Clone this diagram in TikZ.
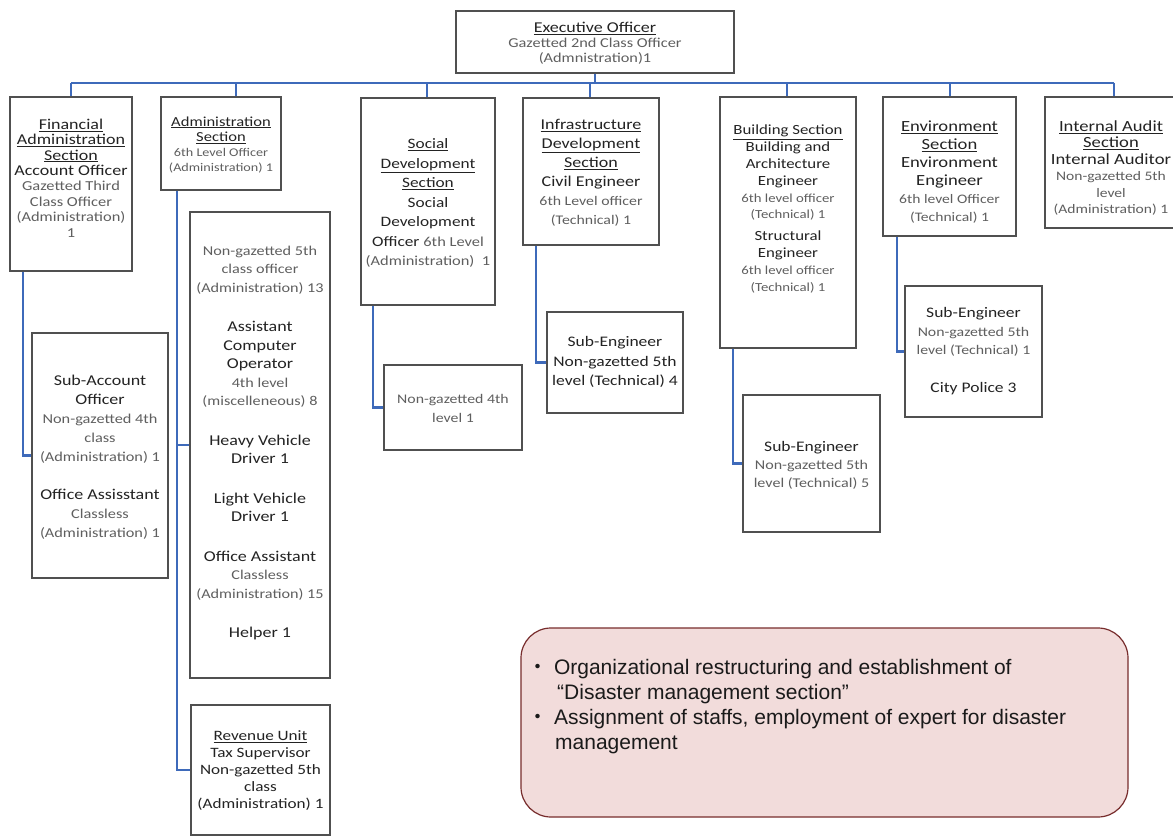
\documentclass[tikz,border=0pt]{standalone}
\usepackage{fontspec}
\setmainfont{Carlito}
\newfontfamily\boxfont{Carlito}[FakeStretch=1.2]
\newfontfamily\notefont{Liberation Sans}
\newfontfamily\cjkfont{Noto Sans CJK JP}
\usetikzlibrary{shadows}

\definecolor{linkblue}{RGB}{62,106,186}
\definecolor{boxline}{RGB}{80,80,80}
\definecolor{darktxt}{RGB}{35,35,35}
\definecolor{greytxt}{RGB}{95,95,95}
\definecolor{notefill}{RGB}{242,220,219}
\definecolor{noteline}{RGB}{120,45,45}
\definecolor{notetxt}{RGB}{26,26,26}

% box text: main size, small size, line spacing
\newcommand{\bxfont}[3]{\boxfont\fontsize{#1}{#3}\selectfont\def\smallsz{\fontsize{#2}{#3}\selectfont}}
\newcommand{\smtxt}[1]{{\color{greytxt}\smallsz #1}}
\newcommand{\hdr}[1]{\underline{#1}}

\begin{document}
\begin{tikzpicture}[x=1pt,y=-1pt,
  box/.style={draw=boxline, line width=1.2pt, fill=white, inner sep=0pt,
    drop shadow={shadow xshift=1.2pt, shadow yshift=-1.2pt, fill=black!45, opacity=.7}},
  txt/.style={align=center, inner sep=0pt, text=darktxt},
  link/.style={draw=linkblue, line width=2.2pt},
  callout/.style={draw=noteline, fill=notefill, line width=1.2pt, rounded corners=30pt, inner sep=0pt},
  noteline/.style={anchor=base west, inner sep=0pt, text=notetxt, font=\notefont\fontsize{21}{25}\selectfont}]

\useasboundingbox (0,0) rectangle (1173,837);
\fill[white] (0,0) rectangle (1173,837);
\clip (0,0) rectangle (1173,837);

% ---- boxes ----
\node[box, minimum width=278, minimum height=62]  (exec)   at (595,42) {};
\node[box, minimum width=122, minimum height=174] (fin)    at (71,184) {};
\node[box, minimum width=120, minimum height=93]  (admin)  at (221,143.5) {};
\node[box, minimum width=140, minimum height=466] (staff)  at (260,445) {};
\node[box, minimum width=139, minimum height=130] (rev)    at (260.5,770) {};
\node[box, minimum width=136, minimum height=245] (subacc) at (100,455.5) {};
\node[box, minimum width=134, minimum height=207] (social) at (428,201.5) {};
\node[box, minimum width=138, minimum height=85]  (socsub) at (453,407.5) {};
\node[box, minimum width=136, minimum height=147] (infra)  at (591,171.5) {};
\node[box, minimum width=136, minimum height=101] (infsub) at (615,362.5) {};
\node[box, minimum width=136, minimum height=251] (build)  at (788,222.5) {};
\node[box, minimum width=137, minimum height=137] (bsub)   at (811.5,463.5) {};
\node[box, minimum width=133, minimum height=139] (env)    at (949.5,166.5) {};
\node[box, minimum width=137, minimum height=131] (esub)   at (973.5,351.5) {};
\node[box, minimum width=135, minimum height=131] (audit)  at (1112.5,162.5) {};

% ---- box texts ----
\node[txt, font=\bxfont{15}{13.6}{15}] (exec-t) at (595,43)
  {\hdr{Executive Officer}\\ \smtxt{Gazetted 2nd Class Officer}\\ \smtxt{(Admnistration)1}};
\node[txt, font=\bxfont{15}{13.7}{15.4}] (fin-t) at (71,178)
  {\hdr{Financial}\\ \hdr{Administration}\\ \hdr{Section}\\ Account Officer\\
   \smtxt{Gazetted Third}\\ \smtxt{Class Officer}\\ \smtxt{(Administration)}\\ \smtxt{1}};
\node[txt, font=\bxfont{13.8}{11.8}{15.3}] (admin-t) at (221,145)
  {\hdr{Administration}\\ \hdr{Section}\\ \smtxt{6th Level Officer}\\ \smtxt{(Administration) 1}};
\node[txt, font=\bxfont{15}{13.5}{18.5}] (staff-t) at (260,443)
  {\smtxt{Non-gazetted 5th}\\ \smtxt{class officer}\\ \smtxt{(Administration) 13}\\[21pt]
   Assistant\\ Computer\\ Operator\\ \smtxt{4th level}\\ \smtxt{(miscelleneous) 8}\\[21pt]
   Heavy Vehicle\\ Driver 1\\[21pt]
   Light Vehicle\\ Driver 1\\[21pt]
   Office Assistant\\ \smtxt{Classless}\\ \smtxt{(Administration) 15}\\[21pt]
   Helper 1};
\node[txt, font=\bxfont{14.3}{14.3}{17}] (rev-t) at (260.5,771)
  {\hdr{Revenue Unit}\\ Tax Supervisor\\ Non-gazetted 5th\\ class\\ (Administration) 1};
\node[txt, font=\bxfont{15}{13.6}{19}] (subacc-t) at (100,457)
  {Sub-Account\\ Officer\\ \smtxt{Non-gazetted 4th}\\ \smtxt{class}\\ \smtxt{(Administration) 1}\\[19pt]
   Office Assisstant\\ \smtxt{Classless}\\ \smtxt{(Administration) 1}};
\node[txt, font=\bxfont{14.4}{13.7}{19.5}] (social-t) at (428,203)
  {\hdr{Social}\\ \hdr{Development}\\ \hdr{Section}\\ Social\\ Development\\
   Officer \smtxt{6th Level}\\ \smtxt{(Administration)~ 1}};
\node[txt, font=\bxfont{13.2}{13.2}{19}] (socsub-t) at (453,408)
  {\smtxt{Non-gazetted 4th}\\ \smtxt{level 1}};
\node[txt, font=\bxfont{15}{13.2}{19}] (infra-t) at (591,173)
  {\hdr{Infrastructure}\\ \hdr{Development}\\ \hdr{Section}\\ Civil Engineer\\
   \smtxt{6th Level officer}\\ \smtxt{(Technical) 1}};
\node[txt, font=\bxfont{14.6}{14.6}{19.5}] (infsub-t) at (615,362)
  {Sub-Engineer\\ Non-gazetted 5th\\ level (Technical) 4};
\node[txt, font=\bxfont{14}{12.3}{16.8}] (build-t) at (788,209)
  {\hdr{Building Section}\\ Building and\\ Architecture\\ Engineer\\
   \smtxt{6th level officer}\\ \smtxt{(Technical) 1}\\[5pt]
   Structural\\ Engineer\\ \smtxt{6th level officer}\\ \smtxt{(Technical) 1}};
\node[txt, font=\bxfont{14.6}{13.4}{18}] (bsub-t) at (811.5,465)
  {Sub-Engineer\\ \smtxt{Non-gazetted 5th}\\ \smtxt{level (Technical) 5}};
\node[txt, font=\bxfont{15.5}{13}{18}] (env-t) at (949.5,172)
  {\hdr{Environment}\\ \hdr{Section}\\ Environment\\ Engineer\\
   \smtxt{6th level Officer}\\ \smtxt{(Technical) 1}};
\node[txt, font=\bxfont{14.6}{13.2}{18.5}] (esub-t) at (973.5,351)
  {Sub-Engineer\\ \smtxt{Non-gazetted 5th}\\ \smtxt{level (Technical) 1}\\[19pt] City Police 3};
\node[txt, font=\bxfont{15.5}{13}{16.5}] (audit-t) at (1111,168)
  {\hdr{Internal Audit}\\ \hdr{Section}\\ Internal Auditor\\ \smtxt{Non-gazetted 5th}\\
   \smtxt{level}\\ \smtxt{(Administration) 1}};

% ---- bus and drops ----
\coordinate (b-fin)   at (71,83);
\coordinate (b-admin) at (236,83);
\coordinate (b-soc)   at (427,83);
\coordinate (b-inf)   at (590,83);
\coordinate (b-bld)   at (787,83);
\coordinate (b-env)   at (950,83);
\coordinate (b-aud)   at (1114,83);
\draw[link] (b-fin) -- (b-aud);
\draw[link] (exec.south) -- (exec.south |- b-fin);
\foreach \b/\n in {b-fin/fin, b-admin/admin, b-soc/social, b-inf/infra, b-bld/build, b-env/env, b-aud/audit}
  \draw[link] (\b) -- (\b |- \n.north);

% ---- section trunks ----
\draw[link] ([xshift=-48pt]fin.south) |- (subacc.west);
\draw[link] ([xshift=-44pt]admin.south) |- (rev.west);
\draw[link] (staff.west) -- ++(-13,0);
\draw[link] ([xshift=-55pt]social.south) |- (socsub.west);
\draw[link] ([xshift=-55pt]infra.south) |- (infsub.west);
\draw[link] ([xshift=-55pt]build.south) |- (bsub.west);
\draw[link] ([xshift=-52.5pt]env.south) |- (esub.west);

% ---- callout ----
\node[callout, minimum width=607, minimum height=189] (note) at (824.5,722.5) {};
\node[noteline] (note-1) at (527,674) {{\cjkfont ・} Organizational restructuring and establishment of};
\node[noteline] (note-2) at (557,699) {“Disaster management section”};
\node[noteline] (note-3) at (527,724) {{\cjkfont ・} Assignment of staffs, employment of expert for disaster};
\node[noteline] (note-4) at (555,749) {management};
\end{tikzpicture}
\end{document}
